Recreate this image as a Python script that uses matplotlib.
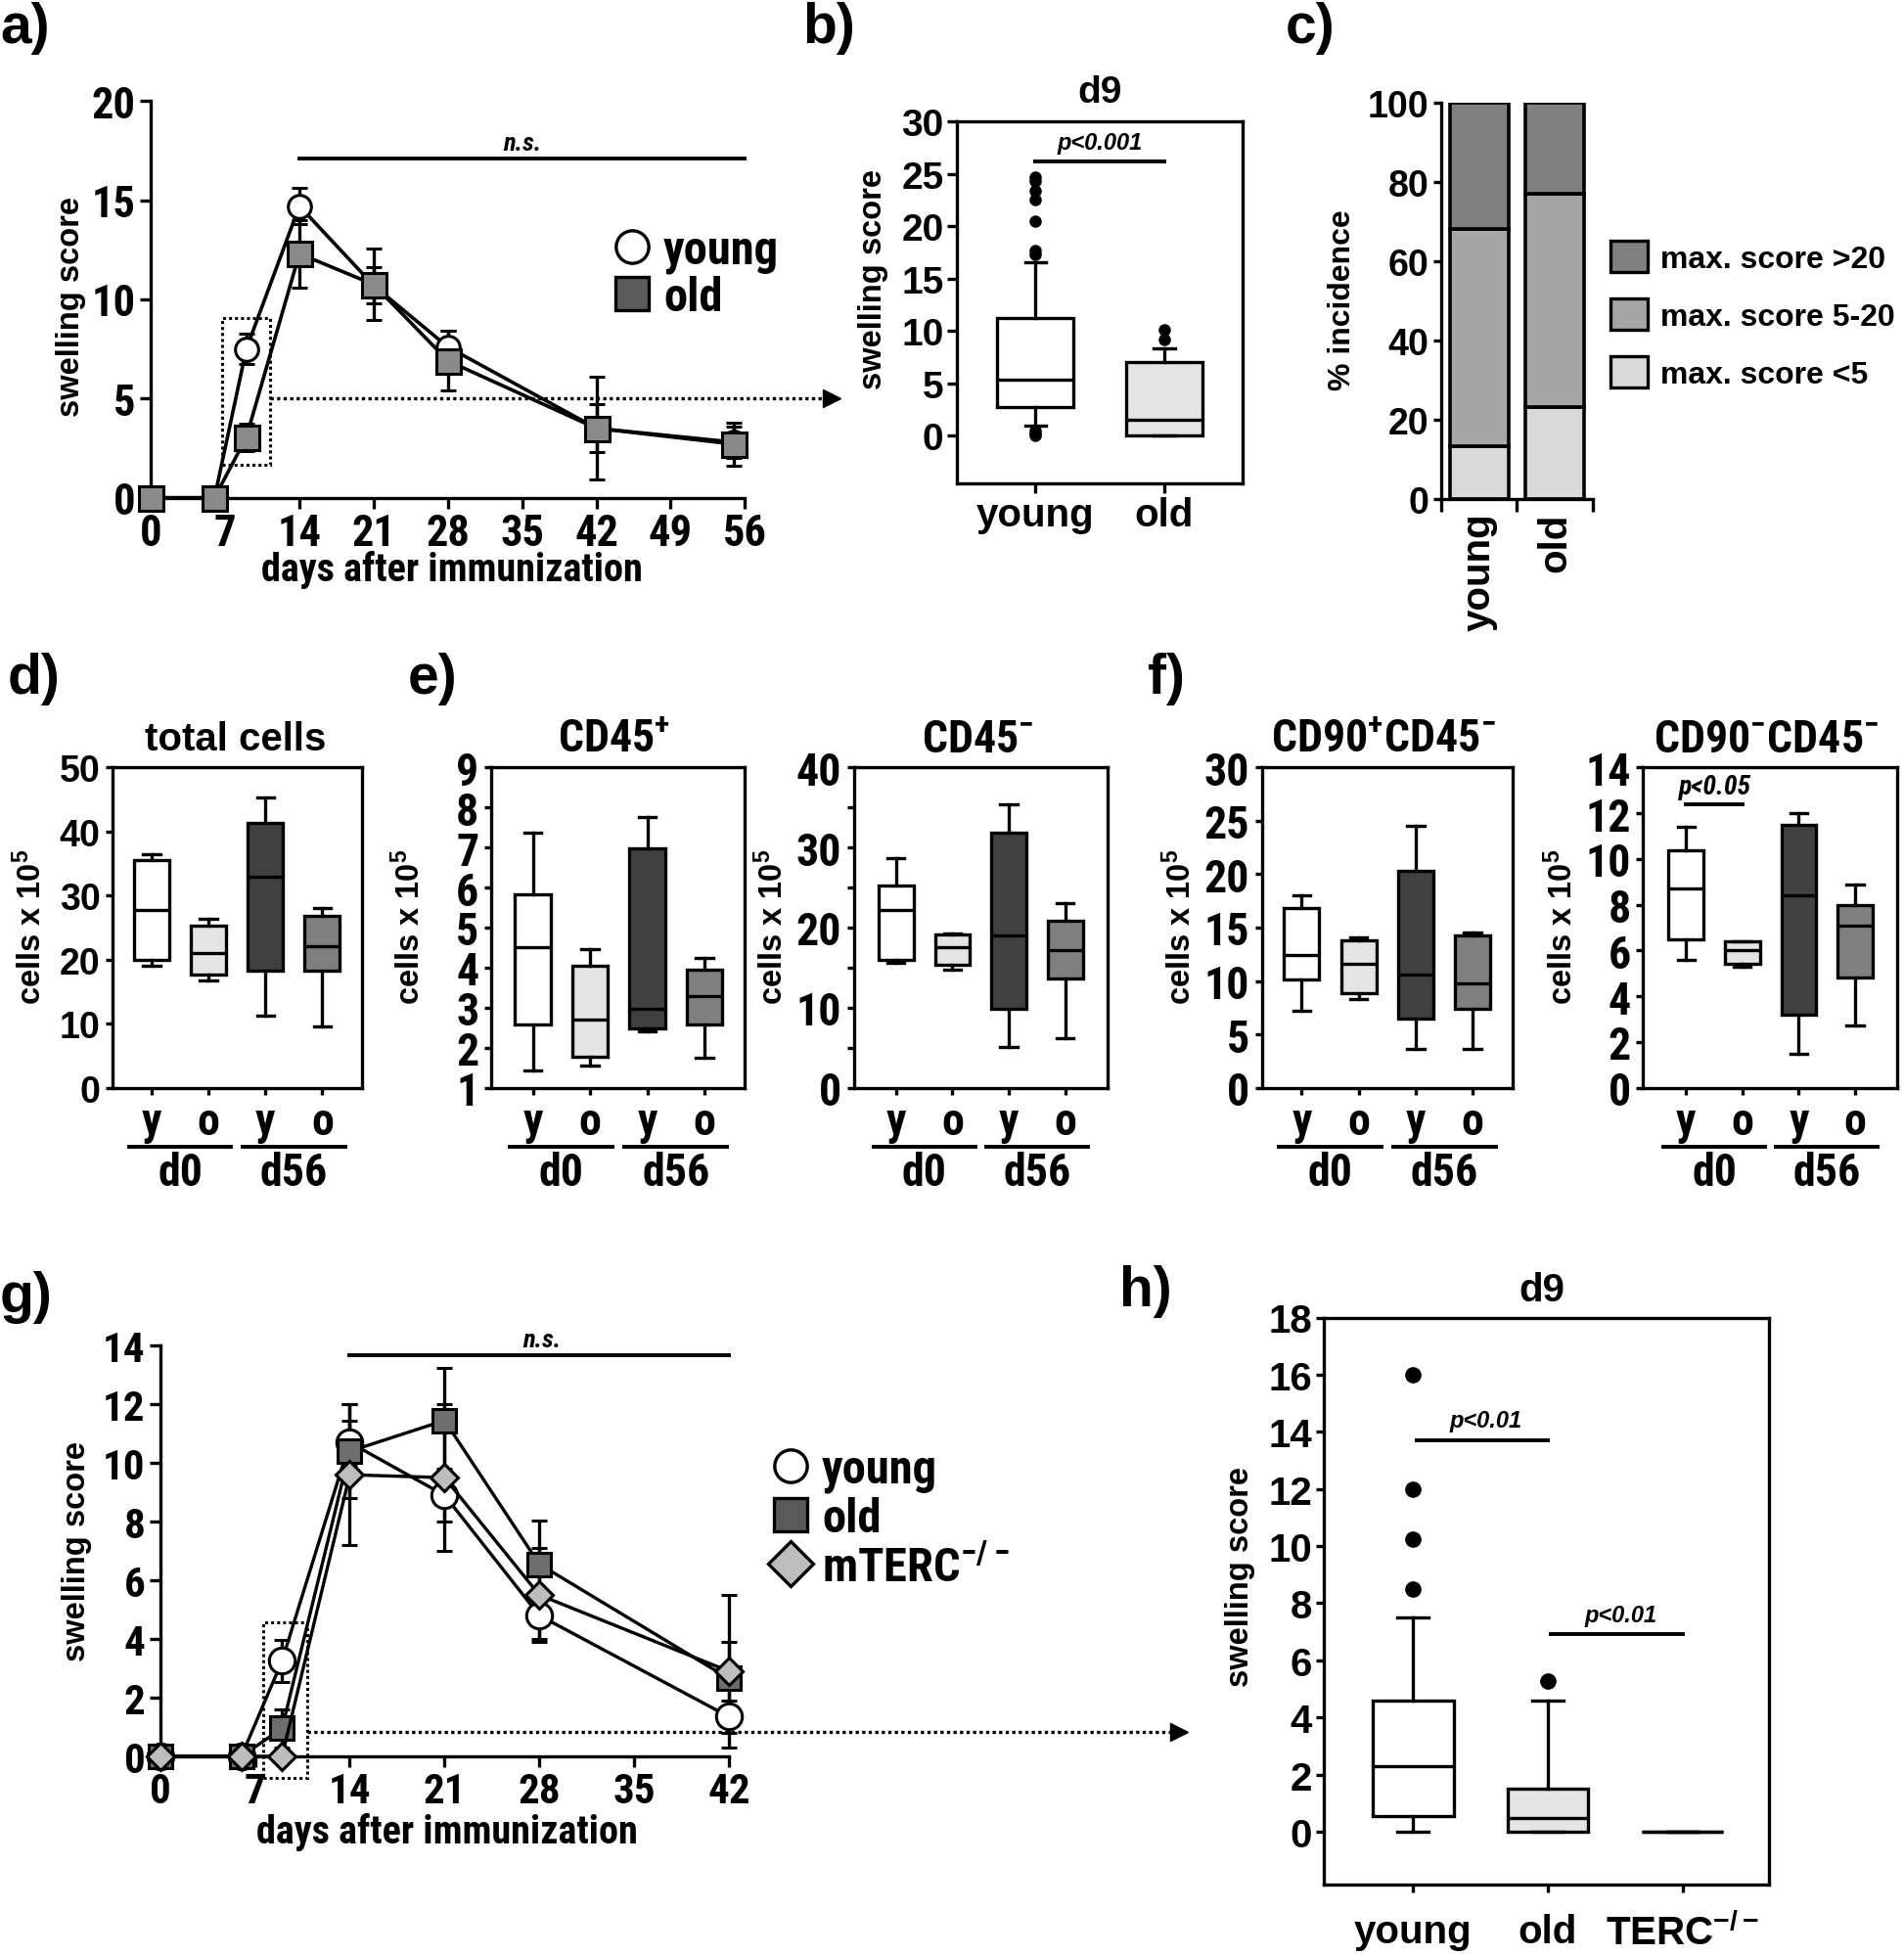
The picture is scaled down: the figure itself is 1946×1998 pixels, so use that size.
import re
import numpy as np
import matplotlib
matplotlib.use('Agg')
import matplotlib.pyplot as plt
import matplotlib.transforms as mtransforms
from matplotlib import font_manager
from matplotlib.font_manager import FontProperties
from matplotlib.lines import Line2D
from matplotlib.patches import Patch, Rectangle

# ---------------- data ----------------
# a) swelling score after immunization, young vs old
days_a = [0, 6, 9, 14, 21, 28, 42, 55]
young_a = [0, 0, 7.5, 14.7, 10.7, 7.6, 3.5, 2.8]
young_a_err = [0, 0, 0.75, 0.9, 0.9, 0.8, 1.2, 0.8]
old_a = [0, 0, 3.05, 12.3, 10.75, 6.9, 3.5, 2.7]
old_a_err = [0, 0, 0.7, 1.7, 1.8, 1.5, 2.6, 1.1]

# b) d9 swelling score (whislo, q1, median, q3, whishi)
b_groups = ['young', 'old']
b_young = [1.0, 2.7, 5.35, 11.25, 16.6]
b_old = [0.0, 0.0, 1.5, 7.0, 8.3]
b_young_out = [24.7, 24.3, 23.4, 22.5, 20.5, 17.7, 17.3, 0.5, 0.2, 0.0]
b_old_out = [10.1, 9.2]

# c) % incidence by max. score
c_groups = ['young', 'old']
c_low = [13.2, 23.2]     # max. score <5
c_mid = [54.8, 53.8]     # max. score 5-20
c_high = [32.0, 23.0]    # max. score >20

# d-f) cell counts x 10^5, groups y/o at d0 and d56 (whislo, q1, median, q3, whishi)
cell_groups = ['y', 'o', 'y', 'o']
cell_days = ['d0', 'd56']
total_cells = [[19.1, 20.0, 27.8, 35.6, 36.5],
               [16.8, 17.6, 21.1, 25.3, 26.3],
               [11.3, 18.2, 32.9, 41.3, 45.4],
               [9.6, 18.3, 22.1, 26.8, 28.1]]
cd45_pos = [[1.42, 2.57, 4.51, 5.83, 7.36],
            [1.55, 1.77, 2.69, 4.05, 4.45],
            [2.42, 2.48, 2.96, 6.98, 7.77],
            [1.74, 2.59, 3.28, 3.96, 4.24]]
cd45_neg = [[15.6, 16.0, 22.2, 25.3, 28.7],
            [14.7, 15.4, 17.6, 19.1, 19.3],
            [5.1, 9.8, 19.0, 31.8, 35.4],
            [6.2, 13.6, 17.2, 20.9, 23.0]]
cd90p_cd45n = [[7.2, 10.1, 12.4, 16.8, 18.0],
               [8.3, 8.9, 11.6, 13.8, 14.1],
               [3.6, 6.5, 10.6, 20.3, 24.5],
               [3.6, 7.4, 9.8, 14.3, 14.5]]
cd90n_cd45n = [[5.6, 6.5, 8.7, 10.4, 11.4],
               [5.3, 5.4, 6.0, 6.4, 6.4],
               [1.5, 3.2, 8.4, 11.5, 12.0],
               [2.7, 4.8, 7.1, 8.0, 8.9]]

# g) swelling score, young / old / mTERC-/-
days_g = [0, 6, 9, 14, 21, 28, 42]
young_g = [0, 0, 3.25, 10.7, 8.9, 4.8, 1.35]
young_g_err = [0, 0, 0.72, 0.75, 0.9, 0.8, 0.55]
old_g = [0, 0, 0.95, 10.4, 11.45, 6.55, 2.65]
old_g_err = [0, 0, 0.65, 1.6, 1.8, 1.5, 1.25]
terc_g = [0, 0, 0, 9.6, 9.5, 5.5, 2.9]
terc_g_err = [0, 0, 0, 2.4, 2.5, 1.6, 2.6]

# h) d9 swelling score (whislo, q1, median, q3, whishi)
h_groups = ['young', 'old', r'TERC$^{\mathbf{-/-}}$']
h_young = [0.0, 0.55, 2.3, 4.6, 7.5]
h_old = [0.0, 0.0, 0.47, 1.5, 4.6]
h_terc = [0.0, 0.0, 0.0, 0.0, 0.0]
h_young_out = [16.0, 12.0, 10.25, 8.5]
h_old_out = [5.27]

# ---------------- fonts ----------------
W, H = 1946, 1999
WIDE = 'Liberation Sans'


def wnum(w):
    if isinstance(w, (int, float)):
        return w
    return font_manager.weight_dict.get(str(w), 400)


def pick_narrow():
    order = ['liberation sans narrow', 'arial narrow', 'roboto condensed', 'noto sans',
             'open sans', 'dejavu sans']
    cands = []
    for f in font_manager.fontManager.ttflist:
        tag = (str(f.stretch) + ' ' + f.name + ' ' + f.fname).lower()
        if f.style != 'normal' or wnum(f.weight) < 600:
            continue
        if 'condensed' not in tag and 'narrow' not in tag:
            continue
        n, fn = f.name.lower(), f.fname.lower()
        r = next((i for i, o in enumerate(order) if n.startswith(o)), len(order))
        extra = 1 if any(k in fn for k in ('extra', 'semi', 'ultra')) else 0
        cands.append(((r, extra, abs(wnum(f.weight) - 700)), f))
    if not cands:
        return None, None
    cands.sort(key=lambda c: c[0])
    f = cands[0][1]
    ital = None
    for g in font_manager.fontManager.ttflist:
        if (g.name == f.name and g.stretch == f.stretch and g.style != 'normal'
                and wnum(g.weight) == wnum(f.weight)):
            ital = g.fname
            break
    return f.fname, ital or f.fname


NARROW_FILE, NARROW_ITALIC = pick_narrow()


def nfp(size, italic=False):
    if NARROW_FILE is None:
        return FontProperties(family=[WIDE], weight='bold', size=size * 0.85,
                              style='italic' if italic else 'normal')
    return FontProperties(fname=NARROW_ITALIC if italic else NARROW_FILE, size=size)


def wfp(size, italic=False):
    return FontProperties(family=[WIDE], weight='bold',
                          style='italic' if italic else 'normal', size=size)


def sf_pattern():
    if NARROW_FILE is None:
        return WIDE + ':bold'
    esc = re.sub(r'([\\=_:,])', r'\\\1', NARROW_FILE)
    pat = ':file=' + esc
    try:
        if font_manager.findfont(FontProperties(pat)) == NARROW_FILE:
            return pat
    except Exception:
        pass
    return WIDE + ':bold'


plt.rcParams['font.family'] = [WIDE, 'DejaVu Sans']
plt.rcParams['font.weight'] = 'bold'
plt.rcParams['mathtext.fontset'] = 'custom'
plt.rcParams['mathtext.rm'] = WIDE + ':bold'
plt.rcParams['mathtext.bf'] = WIDE + ':bold'
plt.rcParams['mathtext.sf'] = sf_pattern()
plt.rcParams['mathtext.it'] = WIDE + ':italic:bold'

LW = 2.4
BOX_COLORS = ['white', '#e4e4e4', '#404040', '#808080']

fig = plt.figure(figsize=(W / 100, H / 100), dpi=100)


def rect(l, t, r, b):
    return [l / W, 1 - b / H, (r - l) / W, (b - t) / H]


def ftext(x, y, s, fp, **kw):
    kw.setdefault('ha', 'center')
    kw.setdefault('va', 'center')
    return fig.text(x / W, 1 - y / H, s, fontproperties=fp, **kw)


def tick_font(ax, axis, fp):
    labs = ax.get_xticklabels() if axis == 'x' else ax.get_yticklabels()
    for t in labs:
        t.set_fontproperties(fp)


def style_axes(ax, box=True):
    for side in ['left', 'bottom', 'top', 'right']:
        ax.spines[side].set_linewidth(LW)
    if not box:
        ax.spines['top'].set_visible(False)
        ax.spines['right'].set_visible(False)
    ax.tick_params(direction='out', width=LW, top=False, right=False)


def stats_from(rows, outliers=None):
    out = []
    for i, r in enumerate(rows):
        fl = outliers[i] if outliers else []
        out.append(dict(whislo=r[0], q1=r[1], med=r[2], q3=r[3], whishi=r[4], fliers=fl))
    return out


def draw_boxes(ax, stats, colors, width, capwidth, flier_ms=7):
    pos = np.arange(1, len(stats) + 1)
    bp = ax.bxp(stats, positions=pos, widths=width, capwidths=capwidth,
                patch_artist=True, showfliers=True, manage_ticks=False,
                boxprops=dict(edgecolor='black', linewidth=LW),
                medianprops=dict(color='black', linewidth=LW),
                whiskerprops=dict(color='black', linewidth=LW),
                capprops=dict(color='black', linewidth=LW),
                flierprops=dict(marker='o', markerfacecolor='black',
                                markeredgecolor='black', markersize=flier_ms))
    for patch, c in zip(bp['boxes'], colors):
        patch.set_facecolor(c)
        patch.set_joinstyle('miter')
    return pos


def unclip(container):
    for art in container.lines:
        if isinstance(art, tuple):
            for a in art:
                a.set_clip_on(False)
        elif art is not None:
            art.set_clip_on(False)


def dotted_arrow(ax, x0, x1, y):
    ax.plot([x0, x1], [y, y], color='black', lw=LW, ls=(0, (1, 1)), clip_on=False)
    ax.plot([x1], [y], marker='>', ms=13, color='black', clip_on=False)


# ---------------- a) ----------------
ax = fig.add_axes(rect(154.2, 104.1, 761.3, 509.7))
style_axes(ax, box=False)
ax.set_xlim(0, 56)
ax.set_ylim(0, 20)
ax.set_xticks(np.arange(0, 57, 7))
ax.set_yticks(np.arange(0, 21, 5))
ax.tick_params(length=8, pad=3)
tick_font(ax, 'x', nfp(32))
tick_font(ax, 'y', nfp(32))
c1 = ax.errorbar(days_a, young_a, yerr=young_a_err, fmt='-o', color='black', lw=2.6,
                 mfc='white', mec='black', ms=17, mew=2.2, elinewidth=LW,
                 capsize=6, capthick=LW, zorder=4)
c2 = ax.errorbar(days_a, old_a, yerr=old_a_err, fmt='-s', color='black', lw=2.6,
                 mfc='#8a8a8a', mec='black', ms=18, mew=2.2, elinewidth=LW,
                 capsize=6, capthick=LW, zorder=4)
unclip(c1)
unclip(c2)
ax.plot([14, 56], [17.1, 17.1], color='black', lw=2.8, clip_on=False)
ax.text(35, 17.3, 'n.s.', ha='center', va='bottom', fontproperties=nfp(19, True))
ax.add_patch(Rectangle((6.75, 1.64), 4.5, 7.4, fill=False, lw=2.2, ls=(0, (1, 1)),
                       edgecolor='black', clip_on=False))
dotted_arrow(ax, 11.26, 64.2, 5)
hand_a = [Line2D([], [], ls='none', marker='o', ms=24, mfc='white', mec='black', mew=2.4),
          Line2D([], [], ls='none', marker='s', ms=24, mfc='#5a5a5a', mec='black', mew=2.4)]
ax.legend(hand_a, ['young', 'old'], loc='center left', bbox_to_anchor=(622 / W, 1 - 281 / H),
          bbox_transform=fig.transFigure, frameon=False, borderpad=0, borderaxespad=0,
          handlelength=1.0, handletextpad=0.15, labelspacing=0.05, prop=nfp(35))
ftext(72, 314, 'swelling score', wfp(23.5), rotation=90)
ftext(462, 583, 'days after immunization', nfp(29))

# ---------------- b) ----------------
ax = fig.add_axes(rect(978.3, 125, 1270, 494.6))
style_axes(ax)
pos = draw_boxes(ax, stats_from([b_young, b_old], [b_young_out, b_old_out]),
                 ['white', '#e4e4e4'], 0.59, 0.16, flier_ms=8)
ax.set_xlim(0.393, 2.607)
ax.set_ylim(-4.5, 30)
ax.set_yticks(np.arange(0, 31, 5))
ax.set_xticks(pos, b_groups)
ax.tick_params(length=7, pad=3)
tick_font(ax, 'y', wfp(28))
tick_font(ax, 'x', wfp(29))
ax.plot([1, 2], [26.2, 26.2], color='black', lw=2.8)
ax.text(1.5, 26.9, 'p<0.001', ha='center', va='bottom', fontproperties=wfp(17, True))
ftext(1124, 95, 'd9', wfp(28))
ftext(893, 286, 'swelling score', wfp(23.5), rotation=90)

# ---------------- c) ----------------
ax = fig.add_axes(rect(1473, 105.7, 1627.6, 510.8))
style_axes(ax, box=False)
xc = np.arange(len(c_groups))
bar_kw = dict(width=0.78, edgecolor='black', linewidth=2.6)
ax.bar(xc, c_low, color='#dadada', **bar_kw)
ax.bar(xc, c_mid, bottom=c_low, color='#a6a6a6', **bar_kw)
ax.bar(xc, c_high, bottom=np.add(c_low, c_mid), color='#808080', **bar_kw)
ax.set_xlim(-0.5, 1.5)
ax.set_ylim(0, 100)
ax.set_yticks(np.arange(0, 101, 20))
ax.set_xticks(xc, c_groups, rotation=90)
ax.set_xticks([-0.5, 0.5, 1.5], minor=True)
ax.tick_params(axis='y', length=6, pad=3)
ax.tick_params(axis='x', which='major', length=0, pad=10)
ax.tick_params(axis='x', which='minor', length=9, width=LW)
tick_font(ax, 'y', wfp(27))
tick_font(ax, 'x', wfp(29))
hand_c = [Patch(facecolor='#808080', edgecolor='black', lw=2.4),
          Patch(facecolor='#a6a6a6', edgecolor='black', lw=2.4),
          Patch(facecolor='#dadada', edgecolor='black', lw=2.4)]
ax.legend(hand_c, ['max. score >20', 'max. score 5-20', 'max. score <5'],
          loc='center left', bbox_to_anchor=(1646 / W, 1 - 323 / H),
          bbox_transform=fig.transFigure, frameon=False, borderpad=0, borderaxespad=0,
          handlelength=1.19, handleheight=1.16, handletextpad=0.4, labelspacing=0.8,
          prop=wfp(23))
ftext(1372, 307, '% incidence', wfp(23), rotation=90)

# ---------------- d-f) ----------------
cell_panels = [
    (total_cells, (115, 370), (0.31, 4.70), (0, 50), 10, None, 'total cells', wfp(29), 241),
    (cd45_pos, (501.8, 761), (0.27, 4.70), (1, 9), 1, None, r'CD45$^{\mathsf{+}}$', nfp(33), 628),
    (cd45_neg, (872.6, 1132), (0.25, 4.75), (0, 40), 10, 5, r'CD45$^{\mathsf{-}}$', nfp(33), 999),
    (cd90p_cd45n, (1289.6, 1546), (0.30, 4.70), (0, 30), 5, None,
     r'CD90$^{\mathsf{+}}$CD45$^{\mathsf{-}}$', nfp(33), 1414),
    (cd90n_cd45n, (1679.4, 1939.3), (0.24, 4.75), (0, 14), 2, None,
     r'CD90$^{\mathsf{-}}$CD45$^{\mathsf{-}}$', nfp(33), 1805),
]
for k, (rows, (l, r), xl, yl, step, minor, title, tfp, tx) in enumerate(cell_panels):
    ax = fig.add_axes(rect(l, 785.4, r, 1112.6))
    style_axes(ax)
    pos = draw_boxes(ax, stats_from(rows), BOX_COLORS, 0.62, 0.3)
    ax.set_xlim(*xl)
    ax.set_ylim(*yl)
    ax.set_yticks(np.arange(yl[0], yl[1] + step / 2, step))
    if minor:
        ax.set_yticks(np.arange(yl[0] + minor, yl[1], step), minor=True)
        ax.tick_params(axis='y', which='minor', length=5, width=LW)
    ax.set_xticks(pos, cell_groups)
    ax.tick_params(length=5, pad=4)
    tick_font(ax, 'x', nfp(33))
    tick_font(ax, 'y', wfp(27) if k == 0 else nfp(33))
    trans = mtransforms.blended_transform_factory(ax.transData, fig.transFigure)
    for j, day in enumerate(cell_days):
        x0 = pos[2 * j]
        ax.plot([x0 - 0.4, x0 + 1.4], [1 - 1173 / H] * 2, color='black', lw=2.8,
                transform=trans, clip_on=False)
        ax.text(x0 + 0.5, 1 - 1199 / H, day, transform=trans, ha='center', va='center',
                fontproperties=nfp(33))
    ftext(tx, 756, title, tfp)
    ftext(l - 83 if k else 32, 947, r'cells x 10$^{\mathbf{5}}$', wfp(23.5), rotation=90)
    if k == 4:
        ax.plot([1, 2], [12.4, 12.4], color='black', lw=2.8)
        ax.text(1.5, 12.6, 'p<0.05', ha='center', va='bottom', fontproperties=nfp(20, True))

# ---------------- g) ----------------
ax = fig.add_axes(rect(163.7, 1376.3, 745, 1795.9))
style_axes(ax, box=False)
ax.set_xlim(0, 42)
ax.set_ylim(0, 14)
ax.set_xticks(np.arange(0, 43, 7))
ax.set_yticks(np.arange(0, 15, 2))
ax.tick_params(length=8, pad=3)
tick_font(ax, 'x', nfp(31))
tick_font(ax, 'y', nfp(31))
eb_kw = dict(color='black', lw=2.4, mec='black', mew=2.2, elinewidth=LW, capsize=6,
             capthick=LW, zorder=4)
g1 = ax.errorbar(days_g, young_g, yerr=young_g_err, fmt='-o', mfc='white', ms=19, **eb_kw)
g2 = ax.errorbar(days_g, old_g, yerr=old_g_err, fmt='-s', mfc='#6e6e6e', ms=17, **eb_kw)
g3 = ax.errorbar(days_g, terc_g, yerr=terc_g_err, fmt='-D', mfc='#bdbdbd', ms=14, **eb_kw)
for cont in (g1, g2, g3):
    unclip(cont)
ax.plot([14, 42], [13.66, 13.66], color='black', lw=2.8, clip_on=False)
ax.text(28.2, 13.8, 'n.s.', ha='center', va='bottom', fontproperties=nfp(19, True))
ax.add_patch(Rectangle((7.6, -0.75), 3.26, 5.31, fill=False, lw=2.2, ls=(0, (1, 1)),
                       edgecolor='black', clip_on=False))
dotted_arrow(ax, 10.86, 75.2, 0.82)
hand_g = [Line2D([], [], ls='none', marker='o', ms=24, mfc='white', mec='black', mew=2.4),
          Line2D([], [], ls='none', marker='s', ms=24, mfc='#5a5a5a', mec='black', mew=2.4),
          Line2D([], [], ls='none', marker='D', ms=23, mfc='#bdbdbd', mec='black', mew=2.4)]
ax.legend(hand_g, ['young', 'old', r'mTERC$^{\mathsf{-/-}}$'], loc='center left',
          bbox_to_anchor=(784 / W, 1 - 1553 / H), bbox_transform=fig.transFigure,
          frameon=False, borderpad=0, borderaxespad=0, handlelength=1.0,
          handletextpad=0.15, labelspacing=0.08, prop=nfp(35))
ftext(79, 1586, 'swelling score', wfp(23.5), rotation=90)
ftext(457, 1873, 'days after immunization', nfp(29))

# ---------------- h) ----------------
ax = fig.add_axes(rect(1353.4, 1347.5, 1807.6, 1926.9))
style_axes(ax)
pos = draw_boxes(ax, stats_from([h_young, h_old, h_terc], [h_young_out, h_old_out, []]),
                 ['white', '#e4e4e4', 'white'], 0.6, 0.23, flier_ms=11)
ax.set_xlim(0.34, 3.64)
ax.set_ylim(-1.85, 18)
ax.set_yticks(np.arange(0, 19, 2))
ax.set_xticks(pos, h_groups)
ax.tick_params(length=6)
ax.tick_params(axis='y', pad=3)
ax.tick_params(axis='x', pad=15)
tick_font(ax, 'y', wfp(29))
tick_font(ax, 'x', wfp(29))
ax.plot([1.03, 2.0], [13.7, 13.7], color='black', lw=2.8)
ax.text(1.54, 14.0, 'p<0.01', ha='center', va='bottom', fontproperties=wfp(17, True))
ax.plot([2.02, 3.0], [6.9, 6.9], color='black', lw=2.8)
ax.text(2.54, 7.2, 'p<0.01', ha='center', va='bottom', fontproperties=wfp(17, True))
ftext(1576, 1319, 'd9', wfp(29))
ftext(1267.5, 1612, 'swelling score', wfp(23.5), rotation=90)

# ---------------- panel letters ----------------
for letter, x, y in [('a)', 0, 2), ('b)', 820, 2), ('c)', 1314, 2), ('d)', 8, 667),
                     ('e)', 417, 667), ('f)', 1173, 667), ('g)', 0, 1299), ('h)', 1144, 1293)]:
    ftext(x, y, letter, wfp(41), ha='left', va='top')

fig.savefig('out.png', dpi=100)
